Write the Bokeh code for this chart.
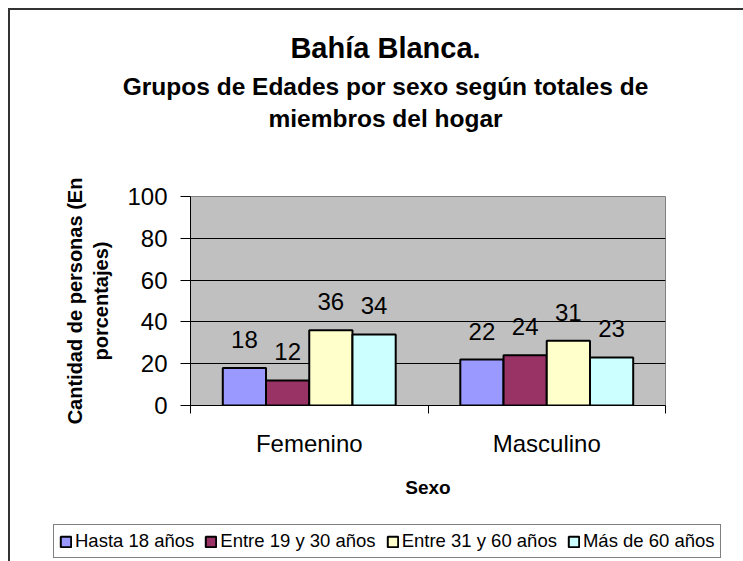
from bokeh.plotting import figure
from bokeh.layouts import column
from bokeh.models import (Range1d, FixedTicker, ColumnDataSource, LabelSet, Label,
                          Legend, LegendItem)
from bokeh.core.properties import value
from bokeh.transform import dodge
from bokeh.embed import file_html
from bokeh.resources import INLINE

# ---- data ----
sexos = ["Femenino", "Masculino"]
grupos = ["Hasta 18 años", "Entre 19 y 30 años", "Entre 31 y 60 años", "Más de 60 años"]
hasta_18 = [18, 22]
entre_19_30 = [12, 24]
entre_31_60 = [36, 31]
mas_60 = [34, 23]
y_ticks = [0, 20, 40, 60, 80, 100]
colores = ["#9999FF", "#993366", "#FFFFCC", "#CCFFFF"]

titulo = "Bahía Blanca."
subtitulo_1 = "Grupos de Edades por sexo según totales de"
subtitulo_2 = "miembros del hogar"
eje_x = "Sexo"
eje_y = "Cantidad de personas (En\nporcentajes)"

FONT = "Liberation Sans"
W = 733
series = [hasta_18, entre_19_30, entre_31_60, mas_60]
x_centers = [i + 0.5 for i in range(len(sexos))]
bw = 0.182


def blank(height):
    f = figure(width=W, height=height, x_range=Range1d(0, W), y_range=Range1d(0, height),
               output_backend="svg", toolbar_location=None, title_location=None,
               x_axis_location=None, y_axis_location=None, min_border=0)
    f.frame_align = False
    f.grid.visible = False
    f.outline_line_color = None
    f.background_fill_color = "white"
    f.border_fill_color = "white"
    return f


# ---- title block ----
H0 = 140
p0 = blank(H0)
for txt, base, size in [(titulo, 37, "29px"), (subtitulo_1, 76, "24.5px"), (subtitulo_2, 108, "24.5px")]:
    p0.add_layout(Label(x=375, y=H0 - base, text=txt, text_align="center",
                        text_baseline="alphabetic", text_font=FONT,
                        text_font_style="bold", text_font_size=size, text_color="black"))

# ---- chart ----
p = figure(width=W, height=355,
           x_range=Range1d(0, len(sexos)), y_range=Range1d(0, 100),
           output_backend="svg", toolbar_location=None, title_location=None,
           min_border_left=180, min_border_right=78,
           min_border_top=46, min_border_bottom=100)
p.frame_align = False
p.background_fill_color = "#C0C0C0"
p.border_fill_color = "white"
p.outline_line_color = "#808080"
p.outline_line_width = 1

for k, (vals, c) in enumerate(zip(series, colores)):
    off = (k - (len(series) - 1) / 2) * bw
    src = ColumnDataSource(dict(x=x_centers, y=vals, lab=[str(v) for v in vals]))
    p.vbar(x=dodge("x", off), top="y", width=bw, source=src,
           fill_color=c, line_color="black", line_width=2)
    p.add_layout(LabelSet(x=dodge("x", off), y="y", text="lab", source=src,
                          text_align="center", text_baseline="alphabetic",
                          y_offset=20, text_font=value(FONT), text_font_size="24px",
                          text_color="black"))

xa = p.xaxis[0]
xa.ticker = FixedTicker(ticks=x_centers, minor_ticks=list(range(len(sexos) + 1)))
xa.major_label_overrides = {x: s for x, s in zip(x_centers, sexos)}
xa.major_tick_line_color = None
xa.major_tick_in = 0
xa.major_tick_out = 0
xa.minor_tick_line_color = "black"
xa.minor_tick_in = 0
xa.minor_tick_out = 8
xa.axis_line_color = "black"
xa.major_label_text_font = FONT
xa.major_label_text_font_size = "24px"
xa.major_label_text_color = "black"
xa.major_label_standoff = 16
xa.axis_label = eje_x
xa.axis_label_text_font = FONT
xa.axis_label_text_font_style = "bold"
xa.axis_label_text_font_size = "19px"
xa.axis_label_text_color = "black"
xa.axis_label_standoff = 17

ya = p.yaxis[0]
ya.ticker = FixedTicker(ticks=y_ticks)
ya.minor_tick_line_color = None
ya.major_tick_in = 0
ya.major_tick_out = 10
ya.major_tick_line_color = "black"
ya.axis_line_color = "black"
ya.major_label_text_font = FONT
ya.major_label_text_font_size = "24px"
ya.major_label_text_color = "black"
ya.major_label_standoff = 13
ya.axis_label = eje_y
ya.axis_label_text_font = FONT
ya.axis_label_text_font_style = "bold"
ya.axis_label_text_font_size = "20px"
ya.axis_label_text_color = "black"
ya.axis_label_standoff = 12

p.xgrid.visible = False
p.ygrid.ticker = FixedTicker(ticks=y_ticks[1:-1])
p.ygrid.grid_line_color = "black"
p.ygrid.grid_line_width = 1

# ---- legend block ----
H2 = 56
p2 = blank(H2)
items = []
for g, vals, c in zip(grupos, series, colores):
    r = p2.vbar(x=x_centers, top=vals, width=bw, fill_color=c, line_color="black",
                line_width=2, visible=False)
    items.append(LegendItem(label=g, renderers=[r]))
legend = Legend(items=items, orientation="horizontal", location=(43, 3))
legend.label_text_font = FONT
legend.label_text_font_size = "18.5px"
legend.label_text_color = "black"
legend.glyph_width = 13
legend.glyph_height = 13
legend.label_standoff = 3
legend.spacing = 10
legend.padding = 5
legend.margin = 0
legend.border_line_color = "black"
legend.border_line_width = 1
legend.background_fill_color = "white"
legend.background_fill_alpha = 1
legend.inactive_fill_alpha = 0
p2.add_layout(legend, "center")

page = column(p0, p, p2, spacing=0)
page.styles = {"margin-left": "8px", "margin-top": "8px",
               "border-left": "2px solid #333333", "border-top": "2px solid #333333"}

open("out.html", "w").write(file_html(page, INLINE))
